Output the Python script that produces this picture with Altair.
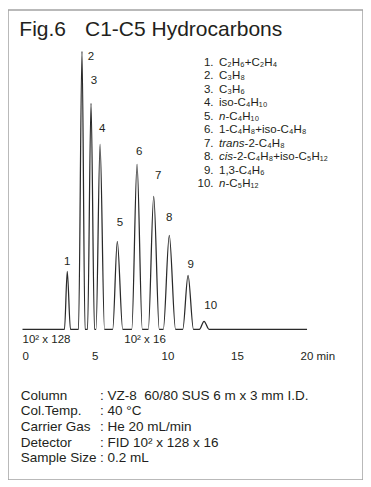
import altair as alt
import pandas as pd

# ---------------- data ----------------
# chromatogram trace (retention time in min, detector signal in arbitrary units)
trace_time = [0.00, 3.02, 3.22, 3.45, 4.03, 4.28, 4.50, 4.68, 4.93, 5.18,
              5.29, 5.58, 5.90, 6.49, 6.82, 7.21, 7.86, 8.24, 8.62, 9.05,
              9.44, 9.84, 10.13, 10.56, 11.01, 11.53, 11.91, 12.30, 12.73,
              13.06, 13.42, 20.47]
trace_signal = [0, 0, 58, 0, 0, 278, 0, 0, 226, 0,
                0, 185, 0, 0, 88, 0, 0, 165, 0, 0,
                133, 0, 0, 94, 0, 0, 54, 0, 0,
                8, 0, 0]

# peak number labels
peak_ids = ["1", "2", "3", "4", "5", "6", "7", "8", "9", "10"]
label_time = [3.22, 4.93, 5.14, 5.74, 7.01, 8.40, 9.77, 10.56, 12.10, 13.54]
label_signal = [67, 272, 248, 200, 106, 177, 153, 111, 64, 23]

# attenuation notes under the baseline
atten_time = [0.0, 7.32]
atten_signal = [-10.7, -10.7]
atten_text = ["10² x 128", "10² x 16"]

# time axis tick labels
tick_values = [0, 5, 10, 15, 20]
tick_labels = ["0", "5", "10", "15", "20 min"]
tick_signal = -27.7

# compound list
compound_num = ["1.", "2.", "3.", "4.", "5.", "6.", "7.", "8.", "9.", "10."]
compound_italic = ["", "", "", "", "n", "", "trans", "cis", "", "n"]
compound_rest = ["C₂H₆+C₂H₄", "C₃H₈", "C₃H₆", "iso-C₄H₁₀", "-C₄H₁₀",
                 "1-C₄H₈+iso-C₄H₈", "-2-C₄H₈", "-2-C₄H₈+iso-C₅H₁₂",
                 "1,3-C₄H₆", "-C₅H₁₂"]

# analytical conditions
cond_labels = ["Column", "Col.Temp.", "Carrier Gas", "Detector", "Sample Size"]
cond_values = [": VZ-8\u00a0 60/80 SUS 6 m x 3 mm I.D.", ": 40 °C",
               ": He 20 mL/min", ": FID 10² x 128 x 16", ": 0.2 mL"]

title_parts = ["Fig.6", "C1-C5 Hydrocarbons"]

# ---------------- styling ----------------
FONT = "Liberation Sans"
INK = "#231f20"
W, H = 355, 470
xs = alt.Scale(domain=[-1.043, 24.496], nice=False, zero=False)
ys = alt.Scale(domain=[-150.7, 319.3], nice=False, zero=False)

trace = pd.DataFrame({"time": trace_time, "signal": trace_signal})
line = alt.Chart(trace).mark_line(
    color="#2a2a2a", strokeWidth=1.25, interpolate="monotone"
).encode(
    x=alt.X("time:Q", scale=xs, axis=None),
    y=alt.Y("signal:Q", scale=ys, axis=None),
)

peaks = pd.DataFrame({"time": label_time, "signal": label_signal, "id": peak_ids})
peak_text = alt.Chart(peaks).mark_text(
    font=FONT, fontSize=11.5, color=INK, align="center", baseline="middle"
).encode(
    x=alt.X("time:Q", scale=xs, axis=None),
    y=alt.Y("signal:Q", scale=ys, axis=None),
    text="id:N",
)

atten = pd.DataFrame({"time": atten_time, "signal": atten_signal, "txt": atten_text})
atten_layer = alt.Chart(atten).mark_text(
    font=FONT, fontSize=11.5, color=INK, align="left", baseline="middle"
).encode(
    x=alt.X("time:Q", scale=xs, axis=None),
    y=alt.Y("signal:Q", scale=ys, axis=None),
    text="txt:N",
)

ticks = pd.DataFrame({"time": tick_values, "signal": [tick_signal] * len(tick_values),
                      "txt": tick_labels})
tick_layer = alt.Chart(ticks).mark_text(
    font=FONT, fontSize=11.5, color=INK, align="left", baseline="middle"
).encode(
    x=alt.X("time:Q", scale=xs, axis=None),
    y=alt.Y("signal:Q", scale=ys, axis=None),
    text="txt:N",
)

# title
title_df = pd.DataFrame({"txt": title_parts, "px": [11.3, 77.0], "py": [26.0, 26.0]})
title_layer = alt.Chart(title_df).mark_text(
    font=FONT, fontSize=21, color=INK, align="left", baseline="alphabetic"
).encode(
    x=alt.X("px:Q", scale=None), y=alt.Y("py:Q", scale=None), text="txt:N"
)

# compound list
italic_w = {"": 0.0, "n": 6.4, "trans": 25.6, "cis": 14.1}
row_y = [52.7 + 13.48 * i for i in range(len(compound_num))]
leg = pd.DataFrame({
    "num": compound_num,
    "ital": compound_italic,
    "rest": compound_rest,
    "py": row_y,
    "rx": [211.0 + italic_w[s] for s in compound_italic],
})
leg_num = alt.Chart(leg).mark_text(
    font=FONT, fontSize=11.5, color=INK, align="right", baseline="middle"
).encode(x=alt.value(205.5), y=alt.Y("py:Q", scale=None), text="num:N")
leg_ital = alt.Chart(leg).transform_filter("datum.ital != ''").mark_text(
    font=FONT, fontSize=11.5, fontStyle="italic", color=INK, align="left",
    baseline="middle"
).encode(x=alt.value(211.0), y=alt.Y("py:Q", scale=None), text="ital:N")
leg_rest = alt.Chart(leg).mark_text(
    font=FONT, fontSize=11.5, color=INK, align="left", baseline="middle"
).encode(x=alt.X("rx:Q", scale=None), y=alt.Y("py:Q", scale=None), text="rest:N")

# conditions block
cond = pd.DataFrame({
    "lab": cond_labels,
    "val": cond_values,
    "py": [385.7 + 15.65 * i for i in range(len(cond_labels))],
})
cond_lab = alt.Chart(cond).mark_text(
    font=FONT, fontSize=13.5, color=INK, align="left", baseline="middle"
).encode(x=alt.value(12.7), y=alt.Y("py:Q", scale=None), text="lab:N")
cond_val = alt.Chart(cond).mark_text(
    font=FONT, fontSize=13.5, color=INK, align="left", baseline="middle"
).encode(x=alt.value(92.0), y=alt.Y("py:Q", scale=None), text="val:N")

chart = alt.layer(
    line, peak_text, atten_layer, tick_layer, title_layer, leg_num, leg_ital,
    leg_rest, cond_lab, cond_val
).properties(
    width=W, height=H,
    autosize=alt.AutoSizeParams(type="none"),
    padding={"left": 0, "top": 2, "right": 0, "bottom": 0},
    background="white",
).configure_view(
    stroke="#a3a3a3", strokeWidth=1.5
)

chart.save("out.html", embed_options={"renderer": "svg", "actions": False})
